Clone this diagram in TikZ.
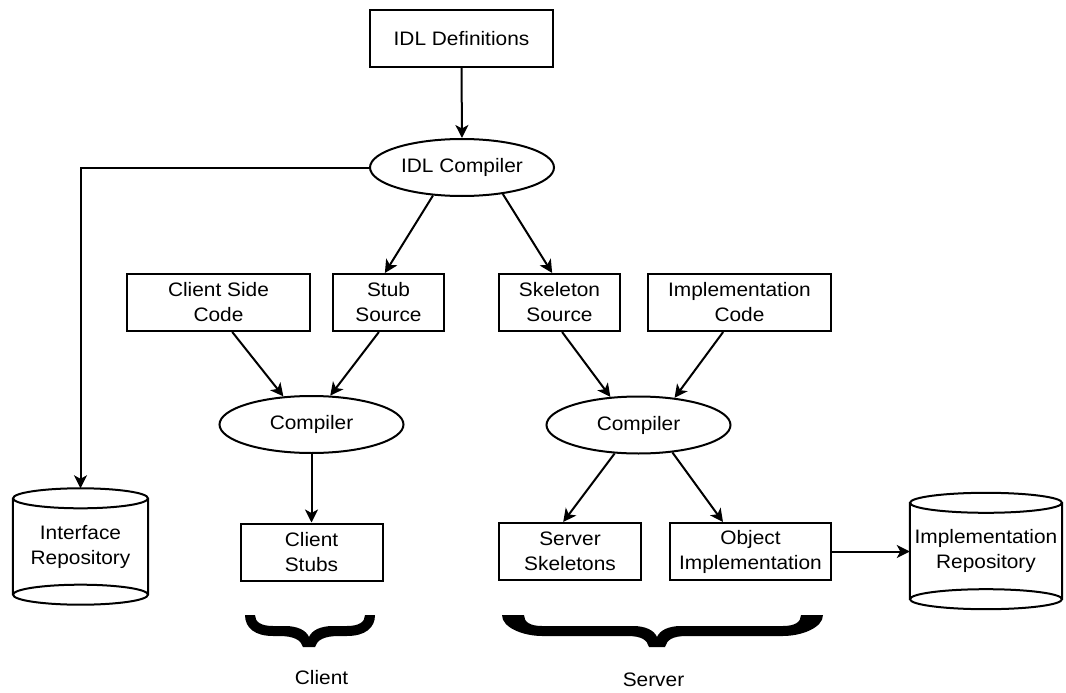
\documentclass[tikz,border=0pt]{standalone}
\usepackage{fontspec}
\setmainfont[FakeStretch=1.07]{Liberation Sans}
\usetikzlibrary{shapes.geometric,arrows.meta,calc}

% Filled curly brace opening downwards:
% #1 left x, #2 right x, #3 tip x, #4 end width, #5 tip half width
\newcommand\drawcurly[5]{%
  \fill (#1,615) -- (#1+#4,615)
    .. controls (#1+#4,622) and (#1+#4+6,626) .. (#1+#4+18,626)
    -- (#3-24,626)
    .. controls (#3-12,626) and (#3-3,630) .. (#3,637)
    .. controls (#3+3,630) and (#3+12,626) .. (#3+24,626)
    -- (#2-#4-18,626)
    .. controls (#2-#4-6,626) and (#2-#4,622) .. (#2-#4,615)
    -- (#2,615)
    .. controls (#2,628) and (#2-#4,636) .. (#2-#4-18,636)
    -- (#3+30,636)
    .. controls (#3+15,636) and (#3+#5+2,640) .. (#3+#5,647)
    -- (#3-#5,647)
    .. controls (#3-#5-2,640) and (#3-15,636) .. (#3-30,636)
    -- (#1+#4+18,636)
    .. controls (#1+#4,636) and (#1,628) .. cycle;
}

\begin{document}
\begin{tikzpicture}[x=1pt,y=-1pt,
  every node/.style={font=\fontsize{19.5}{25}\selectfont, align=center, inner sep=0pt},
  box/.style={draw, line width=2pt, minimum height=57},
  oval/.style={draw, ellipse, line width=2pt, minimum width=184, minimum height=57},
  store/.style={minimum width=#1, minimum height=96},
  drum/.style={line width=2pt},
  arr/.style={line width=2pt, -{Stealth[length=13pt,width=13pt,inset=3.5pt]}}
]
\path[use as bounding box] (0,0) rectangle (1066,693);

% IDL stage
\node[box, minimum width=183] (defs) at (461.5,38.5) {IDL Definitions};
\node[oval] (idlc) at (462,167.5) {IDL Compiler};

% sources
\node[box, minimum width=183] (csc)   at (218.5,302.5) {Client Side\\Code};
\node[box, minimum width=111] (stub)  at (388.5,302.5) {Stub\\Source};
\node[box, minimum width=121] (skel)  at (559.5,302.5) {Skeleton\\Source};
\node[box, minimum width=183] (implc) at (739.5,302.5) {Implementation\\Code};

% compilers
\node[oval] (ccomp) at (311.5,424.5) {Compiler};
\node[oval] (scomp) at (638.5,425) {Compiler};

% generated parts
\node[box, minimum width=142] (cstubs)  at (311.5,552) {Client\\Stubs};
\node[box, minimum width=142] (sskel)   at (570,551.5) {Server\\Skeletons};
\node[box, minimum width=161] (objimpl) at (750.5,551.5) {Object\\Implementation};

% repositories
\node[store=135] (irep)   at (80.5,546.5) {Interface\\Repository};
\node[store=152] (imprep) at (986,551) {Implementation\\Repository};
\foreach \r/\rx in {irep/67.5, imprep/76} {
  \draw[drum] (\r.north west) -- (\r.south west)
              (\r.north east) -- (\r.south east)
              (\r.north) ellipse [x radius=\rx, y radius=10]
              (\r.south) ellipse [x radius=\rx, y radius=10];
}
\coordinate (irtop) at ($(irep.north)+(0,-10)$);

% connectors
\draw[arr] (defs.south) -- (idlc.north);
\draw[arr] (idlc.west) -| (irtop);
\draw[arr] (idlc.224) -- (stub.97);
\draw[arr] (idlc.327) -- (skel.104);
\draw[arr] (csc.295) -- (ccomp.135);
\draw[arr] (stub.252) -- (ccomp.57);
\draw[arr] (skel.275) -- (scomp.135);
\draw[arr] (implc.241) -- (scomp.37);
\draw[arr] (ccomp.south) -- (cstubs.north);
\draw[arr] (scomp.230) -- (sskel.103);
\draw[arr] (scomp.321) -- (objimpl.133);
\draw[arr] (objimpl.east) -- (objimpl.east -| imprep.west);

% groupings
\drawcurly{245}{375}{309}{10}{6}
\drawcurly{502}{823}{657}{22}{8}
\node (client) at (321.5,677.5) {Client};
\node (server) at (653.5,679.5) {Server};
\end{tikzpicture}
\end{document}
